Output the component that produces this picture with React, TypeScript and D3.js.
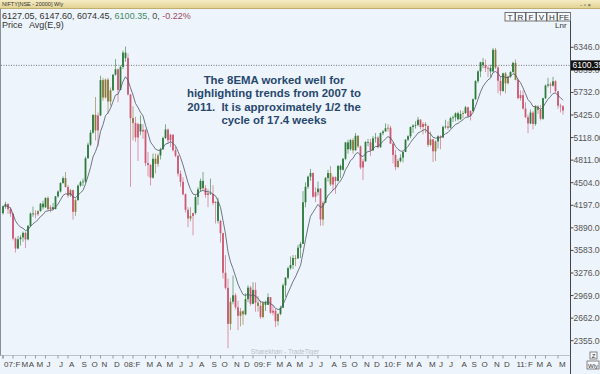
import React from 'react';
import * as d3 from 'd3';

// Weekly NIFTY candles [open, high, low, close]; first week starts Mon 29 Jan 2007
const FIRST_WEEK = new Date(2007, 0, 29);

const weeks2007 = [
  [4090, 4190, 4070, 4183], [4183, 4245, 4150, 4215], [4215, 4225, 4080, 4144], [4144, 4170, 4040, 4082],
  [4082, 4090, 3720, 3745], [3745, 3760, 3554, 3610], [3610, 3780, 3600, 3735], [3735, 3790, 3650, 3760],
  [3760, 3840, 3700, 3822], [3822, 3840, 3617, 3733], [3733, 3930, 3720, 3917], [3917, 4100, 3900, 4085],
  [4085, 4180, 4040, 4083], [4083, 4130, 4020, 4077], [4077, 4130, 4050, 4117], [4117, 4230, 4110, 4219],
  [4219, 4260, 4140, 4170], [4170, 4305, 4160, 4297], [4297, 4320, 4130, 4145], [4145, 4200, 4100, 4171],
  [4171, 4230, 4130, 4147], [4147, 4325, 4140, 4318], [4318, 4400, 4300, 4384], [4384, 4510, 4370, 4500],
  [4500, 4590, 4490, 4566], [4566, 4649, 4440, 4445], [4445, 4470, 4300, 4330], [4330, 4420, 4310, 4403],
  [4403, 4410, 4002, 4108], [4108, 4290, 4050, 4267], [4267, 4480, 4260, 4464], [4464, 4530, 4450, 4510],
  [4510, 4560, 4460, 4520], [4520, 4860, 4500, 4837], [4837, 5050, 4830, 5021], [5021, 5220, 5000, 5185],
  [5185, 5430, 5170, 5428], [5428, 5670, 5080, 5215], [5215, 5460, 5000, 5420], [5420, 5960, 5410, 5900],
  [5900, 5930, 5620, 5663], [5663, 5920, 5650, 5906], [5906, 5930, 5440, 5609], [5609, 5800, 5550, 5762],
  [5762, 5980, 5750, 5974], [5974, 6185, 5960, 6047], [6047, 6060, 5600, 5766], [5766, 6100, 5760, 6079],
];

const weeks2008 = [
  [6079, 6300, 6050, 6274], [6274, 6357, 6150, 6200], [6200, 6260, 5690, 5705], [5705, 5710, 4448, 5383],
  [5383, 5545, 5080, 5317], [5317, 5400, 5060, 5120], [5120, 5320, 4800, 5302], [5302, 5420, 5150, 5200],
  [5200, 5300, 5100, 5224], [5224, 5230, 4730, 4771], [4771, 4920, 4590, 4745], [4745, 4760, 4468, 4573],
  [4573, 4900, 4560, 4830], [4830, 4900, 4630, 4761], [4761, 4900, 4720, 4875], [4875, 4980, 4820, 4958],
  [4958, 5130, 4950, 5112], [5112, 5298, 5100, 5228], [5228, 5240, 5040, 5082], [5082, 5170, 4990, 5157],
  [5157, 5160, 4930, 4946], [4946, 4990, 4850, 4870], [4870, 4880, 4590, 4627], [4627, 4670, 4450, 4517],
  [4517, 4580, 4330, 4347], [4347, 4360, 4100, 4136], [4136, 4170, 3900, 4017], [4017, 4170, 3980, 4050],
  [4050, 4080, 3790, 4093], [4093, 4340, 4070, 4311], [4311, 4440, 4200, 4413], [4413, 4560, 4380, 4529],
  [4529, 4650, 4410, 4430], [4430, 4470, 4300, 4337], [4337, 4420, 4170, 4360], [4360, 4560, 4340, 4352],
  [4352, 4470, 4200, 4228], [4228, 4250, 3950, 4245], [4245, 4300, 3950, 3985], [3985, 4000, 3690, 3818],
  [3818, 3820, 3200, 3279], [3279, 3520, 3050, 3074], [3074, 3200, 2252, 2584], [2584, 2940, 2500, 2885],
  [2885, 3240, 2850, 2973], [2973, 3000, 2780, 2810], [2810, 2900, 2500, 2693], [2693, 2800, 2550, 2755],
  [2755, 2770, 2570, 2714], [2714, 3000, 2700, 2921], [2921, 3110, 2880, 3077], [3077, 3100, 2830, 2857],
];

const weeks2009 = [
  [2857, 3150, 2850, 3046], [3046, 3147, 2750, 2873], [2873, 2960, 2750, 2828], [2828, 2900, 2650, 2678],
  [2678, 2880, 2660, 2874], [2874, 2900, 2760, 2843], [2843, 3000, 2840, 2948], [2948, 2950, 2720, 2736],
  [2736, 2840, 2700, 2763], [2763, 2790, 2539, 2620], [2620, 2730, 2560, 2719], [2719, 2830, 2700, 2803],
  [2803, 3130, 2800, 3108], [3108, 3220, 2950, 3211], [3211, 3360, 3190, 3342], [3342, 3500, 3320, 3384],
  [3384, 3520, 3330, 3480], [3480, 3520, 3370, 3474], [3474, 3660, 3470, 3620], [3620, 3700, 3480, 3672],
  [3672, 4390, 3672, 4238], [4238, 4510, 4170, 4449], [4449, 4600, 4420, 4586], [4586, 4693, 4530, 4637],
  [4637, 4640, 4300, 4313], [4313, 4440, 4240, 4375], [4375, 4520, 4330, 4424], [4424, 4430, 3918, 4004],
  [4004, 4250, 3920, 4231], [4231, 4580, 4230, 4569], [4569, 4680, 4520, 4636], [4636, 4730, 4460, 4481],
  [4481, 4600, 4400, 4580], [4580, 4590, 4353, 4528], [4528, 4745, 4520, 4732], [4732, 4750, 4570, 4680],
  [4680, 4840, 4670, 4830], [4830, 5060, 4810, 5052], [5052, 5090, 4900, 4959], [4959, 5100, 4940, 5083],
  [5083, 5110, 4900, 4945], [4945, 5181, 4940, 5142], [5142, 5150, 4980, 4998], [4998, 5010, 4687, 4711],
  [4711, 4830, 4540, 4796], [4796, 5070, 4790, 5058], [5058, 5100, 5000, 5052], [5052, 5100, 4870, 4942],
  [4942, 5140, 4940, 5108], [5108, 5180, 5050, 5118], [5118, 5140, 4970, 4987], [4987, 5190, 4980, 5178],
];

const weeks2010 = [
  [5178, 5220, 5150, 5201], [5201, 5310, 5200, 5245], [5245, 5300, 5200, 5252], [5252, 5280, 5030, 5036],
  [5036, 5060, 4766, 4882], [4882, 4950, 4675, 4718], [4718, 4830, 4700, 4801], [4801, 4890, 4780, 4845],
  [4845, 4930, 4780, 4922], [4922, 5100, 4920, 5088], [5088, 5150, 5070, 5137], [5137, 5270, 5110, 5262],
  [5262, 5300, 5180, 5282], [5282, 5340, 5240, 5290], [5290, 5399, 5270, 5361], [5361, 5370, 5230, 5262],
  [5262, 5330, 5160, 5304], [5304, 5330, 5180, 5278], [5278, 5280, 4990, 5018], [5018, 5200, 5000, 5094],
  [5094, 5100, 4786, 4931], [4931, 5080, 4800, 5066], [5066, 5150, 4970, 5135], [5135, 5150, 4960, 5120],
  [5120, 5280, 5110, 5263], [5263, 5360, 5240, 5269], [5269, 5340, 5220, 5251], [5251, 5400, 5240, 5383],
  [5383, 5420, 5330, 5393], [5393, 5460, 5340, 5449], [5449, 5470, 5350, 5367], [5367, 5490, 5360, 5439],
  [5439, 5480, 5380, 5452], [5452, 5550, 5440, 5530], [5530, 5540, 5390, 5408], [5408, 5490, 5350, 5479],
  [5479, 5650, 5470, 5640], [5640, 5900, 5630, 5885], [5885, 6035, 5860, 6018], [6018, 6150, 5940, 6143],
  [6143, 6200, 6060, 6103], [6103, 6180, 6010, 6062], [6062, 6090, 5940, 6066], [6066, 6110, 5940, 6018],
  [6018, 6338, 6010, 6312], [6312, 6335, 6050, 6071], [6071, 6090, 5720, 5890], [5890, 5950, 5690, 5752],
  [5752, 6000, 5740, 5992], [5992, 6010, 5720, 5857], [5857, 5960, 5840, 5948], [5948, 6020, 5930, 6011],
  [6011, 6150, 6000, 6134],
];

const weeks2011 = [
  [6134, 6181, 5896, 5904], [5904, 5920, 5640, 5654], [5654, 5760, 5620, 5696], [5696, 5760, 5500, 5512],
  [5512, 5600, 5380, 5396], [5396, 5430, 5177, 5310], [5310, 5500, 5300, 5458], [5458, 5480, 5230, 5303],
  [5303, 5560, 5280, 5538], [5538, 5560, 5440, 5494], [5494, 5560, 5350, 5374], [5374, 5660, 5360, 5654],
  [5654, 5840, 5640, 5826], [5826, 5930, 5800, 5842], [5842, 5870, 5720, 5824], [5824, 5944, 5810, 5884],
  [5884, 5900, 5730, 5749], [5749, 5750, 5510, 5552], [5552, 5580, 5460, 5544], [5544, 5560, 5430, 5486],
];

const yTickValues = [2355, 2662, 2969, 3276, 3583, 3890, 4197, 4504, 4811, 5118, 5425, 5732, 6039, 6346];
const monthLetters = ['J', 'F', 'M', 'A', 'M', 'J', 'J', 'A', 'S', 'O', 'N', 'D'];
const cursorValue = 6100.35;
const quoteText = ['6127.05, 6147.60, 6074.45, ', '6100.35, ', '0, ', '-0.22%'];
const toolButtons = ['T', 'R', 'F', 'V', 'H', 'FE'];
const noteLines = [
  'The 8EMA worked well for',
  'highlighting trends from 2007 to',
  '2011.  It is approximately 1/2 the',
  'cycle of 17.4 weeks',
];
const EMA_PERIOD = 9;

const W = 600;
const H = 374;
const AXIS_X = 570.5;
const BOTTOM = 355.5;
const FONT = '"Liberation Sans", Arial, sans-serif';

const UP = '#2d7a3a';
const DOWN = '#cc5872';
const MIXED = '#8a7a3e';

const candles = [...weeks2007, ...weeks2008, ...weeks2009, ...weeks2010, ...weeks2011].map((d, i) => ({
  i,
  date: d3.timeDay.offset(FIRST_WEEK, i * 7 + 4), // friday of the week
  o: d[0], h: d[1], l: d[2], c: d[3],
}));

// exponential average of closes
const k = 2 / (EMA_PERIOD + 1);
const ema: number[] = [];
candles.forEach((d, i) => {
  ema.push(i === 0 ? d.c : d.c * k + ema[i - 1] * (1 - k));
});

const x = d3.scaleLinear().domain([0, candles.length - 1]).range([3, 563]);
const y = d3.scaleLinear().domain([2355, 6346]).range([340.7, 47.3]);

const candleColor = (i: number) => {
  if (i === 0) return UP;
  const d = candles[i];
  const p = candles[i - 1];
  if (d.h > p.h && d.l >= p.l) return UP;
  if (d.h <= p.h && d.l < p.l) return DOWN;
  return MIXED;
};

// month ticks along the bottom
const labelWidth = (s: string) =>
  s.split('').reduce((w, ch) => w + (/[0-9]/.test(ch) ? 4.45 : ch === ':' ? 2.2 : ch === 'M' ? 6.7 : ch === 'J' ? 4 : 5.5), 0);

const monthTicks: { x: number; label: string }[] = [];
candles.forEach((d, i) => {
  const m = d.date.getMonth();
  if (i === 0) {
    monthTicks.push({ x: x(i), label: `${String(d.date.getFullYear()).slice(2)}:` });
  }
  if (i === 0 || m !== candles[i - 1].date.getMonth()) {
    const label = m === 0 ? `${String(d.date.getFullYear()).slice(2)}:` : monthLetters[m];
    monthTicks.push({ x: x(i), label });
  }
});
const placedTicks: { x: number; lx: number; label: string }[] = [];
let lastEnd = -10;
monthTicks.forEach((t) => {
  const lx = Math.max(t.x + 1, lastEnd + 0.5);
  placedTicks.push({ x: t.x, lx, label: t.label });
  lastEnd = lx + labelWidth(t.label);
});

const emaLine = d3.line<number>().x((_, i) => x(i)).y((v) => y(v));

export default function App() {
  const bodyW = 1.8;
  let bx = 505;
  const buttons = toolButtons.map((b) => {
    const w = b.length > 1 ? 13 : 10;
    const r = { b, x: bx, w };
    bx += w + 0.5;
    return r;
  });
  const cy = y(cursorValue);
  return (
    <svg width={W} height={H} style={{ position: 'absolute', left: 0, top: 0, background: '#eef4fb' }} fontFamily={FONT}>
      <rect x={0} y={0} width={W} height={H} fill="#eef4fb" />
      {/* title bar */}
      <defs>
        <linearGradient id="bar" x1="0" y1="0" x2="0" y2="1">
          <stop offset="0" stopColor="#f6ecc4" />
          <stop offset="1" stopColor="#e2d394" />
        </linearGradient>
      </defs>
      <rect x={0} y={0} width={W} height={8} fill="url(#bar)" />
      <line x1={0} x2={W} y1={8.5} y2={8.5} stroke="#bfae70" />
      <text x={2} y={6.2} fontSize={5.5} fill="#333">NIFTY[NSE - 20000] Wly</text>
      <text x={580} y={6.5} fontSize={6} fill="#444">- ▫ ×</text>

      {/* quote line */}
      <text x={2} y={19} fontSize={9} fill="#333" style={{ whiteSpace: 'pre' }}>
        <tspan>{quoteText[0]}</tspan>
        <tspan fill="#3f8a62">{quoteText[1]}</tspan>
        <tspan fill="#444">{quoteText[2]}</tspan>
        <tspan fill="#a04a5c">{quoteText[3]}</tspan>
      </text>
      <text x={2} y={28} fontSize={9} fill="#333">Price</text>
      <text x={29} y={28} fontSize={9} fill="#333">Avg(E,9)</text>

      {buttons.map((b) => (
        <g key={b.b}>
          <rect x={b.x} y={12.5} width={b.w} height={8.5} fill="#f4f7fb" stroke="#555" strokeWidth={0.8} />
          <text x={b.x + b.w / 2} y={19.7} fontSize={8} textAnchor="middle" fill="#333">{b.b}</text>
        </g>
      ))}
      <text x={555} y={28} fontSize={8} fill="#333">Lnr</text>

      {/* frame */}
      <line x1={0.5} x2={0.5} y1={9} y2={BOTTOM} stroke="#8a9099" />
      <line x1={AXIS_X} x2={AXIS_X} y1={21} y2={H} stroke="#444" />
      <line x1={0} x2={AXIS_X} y1={BOTTOM} y2={BOTTOM} stroke="#9aa0a8" strokeWidth={0.6} />

      {/* watermark */}
      <text x={285} y={354} fontSize={6.5} textAnchor="middle" fill="#b9bec6">Sharekhan - TradeTiger</text>

      {/* y axis */}
      {yTickValues.map((v) => (
        <g key={v}>
          <line x1={AXIS_X} x2={AXIS_X + 3} y1={y(v)} y2={y(v)} stroke="#444" />
          <text x={573.5} y={y(v) + 3} fontSize={8.5} fill="#555">{v.toFixed(2)}</text>
        </g>
      ))}

      {/* cursor line */}
      <line x1={1} x2={AXIS_X} y1={cy} y2={cy} stroke="#555" strokeWidth={0.8} strokeDasharray="1 1.5" />
      <rect x={571} y={cy - 5} width={30} height={10} fill="#111" />
      <text x={572.5} y={cy + 3} fontSize={8.5} fill="#fff">{cursorValue.toFixed(2)}</text>

      {/* x axis */}
      {placedTicks.map((t, i) => (
        <g key={i}>
          <line x1={t.x} x2={t.x} y1={BOTTOM} y2={BOTTOM + 3} stroke="#777" strokeWidth={0.7} />
          <text x={t.lx} y={366.5} fontSize={8} fill="#444">{t.label}</text>
        </g>
      ))}
      <rect x={590} y={352} width={7} height={7} fill="#f4f7fb" stroke="#555" strokeWidth={0.7} />
      <text x={593.5} y={358} fontSize={6} textAnchor="middle" fill="#333">Z</text>
      <rect x={587} y={361} width={12} height={8} fill="#f4f7fb" stroke="#555" strokeWidth={0.7} />
      <text x={593} y={367.5} fontSize={6} textAnchor="middle" fill="#333">Wly</text>

      {/* candles */}
      {candles.map((d) => {
        const col = candleColor(d.i);
        const top = y(Math.max(d.o, d.c));
        const bot = y(Math.min(d.o, d.c));
        return (
          <g key={d.i}>
            <line x1={x(d.i)} x2={x(d.i)} y1={y(d.h)} y2={y(d.l)} stroke={col} strokeWidth={0.8} opacity={0.75} />
            <rect x={x(d.i) - bodyW / 2} y={top} width={bodyW} height={Math.max(0.8, bot - top)} fill={col} />
          </g>
        );
      })}

      {/* 9 period exponential average */}
      <path d={emaLine(ema) || ''} fill="none" stroke="#4b5566" strokeWidth={0.8} />

      {/* note */}
      {noteLines.map((s, i) => (
        <text key={i} x={274} y={84 + i * 13.4} fontSize={11.4} fontWeight="bold" textAnchor="middle" fill="#27486e" style={{ whiteSpace: 'pre' }}>{s}</text>
      ))}
    </svg>
  );
}
